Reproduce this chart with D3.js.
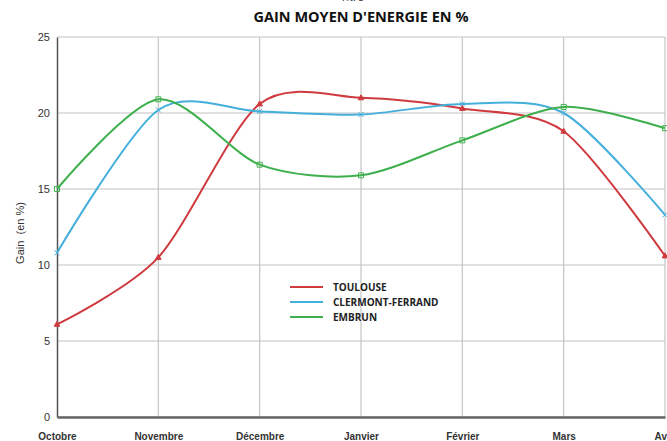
<!DOCTYPE html>
<html>
<head>
<meta charset="utf-8">
<script src="https://cdn.jsdelivr.net/npm/d3@7"></script>
<style>
  body { margin: 0; background: #fff; }
  svg { display: block; }
</style>
</head>
<body>
<div id="chart"></div>
<script>
// chart data
const months = ["Octobre", "Novembre", "Décembre", "Janvier", "Février", "Mars", "Avril"];
const toulouse = [6.1, 10.5, 20.6, 21.0, 20.3, 18.8, 10.6];
const clermont = [10.8, 20.2, 20.1, 19.9, 20.6, 20.0, 13.3];
const embrun = [15.0, 20.9, 16.6, 15.9, 18.2, 20.4, 19.0];
const yTicks = [0, 5, 10, 15, 20, 25];

const series = [
    { name: "TOULOUSE", values: toulouse, color: "#cf3a3f", marker: "triangle" },
    { name: "CLERMONT-FERRAND", values: clermont, color: "#45afdb", marker: "cross" },
    { name: "EMBRUN", values: embrun, color: "#3daf4c", marker: "square" }
];

const svgWidth = 667, svgHeight = 441;
const margin = { top: 37, right: 2, bottom: 24, left: 57 };
const width = svgWidth - margin.left - margin.right;
const height = svgHeight - margin.top - margin.bottom;

const svg = d3.select("#chart").append("svg")
    .attr("width", svgWidth)
    .attr("height", svgHeight)
    .style("font-family", "'Liberation Sans', Arial, sans-serif");

// titles (the top one is cut off in the original too)
svg.append("text")
    .attr("x", 352).attr("y", 1)
    .attr("text-anchor", "middle")
    .style("font-family", "'Open Sans', sans-serif")
    .style("font-size", "11px")
    .attr("fill", "#333")
    .text("Titre");

svg.append("text")
    .attr("x", 361).attr("y", 22)
    .attr("text-anchor", "middle")
    .style("font-family", "'Open Sans', sans-serif")
    .style("font-weight", "bold")
    .style("font-size", "14.5px")
    .attr("fill", "#111")
    .text("GAIN MOYEN D'ENERGIE EN %");

const g = svg.append("g")
    .attr("transform", `translate(${margin.left}, ${margin.top})`);

const x = d3.scalePoint().domain(months).range([0, 608]);
const y = d3.scaleLinear().domain([0, 25]).range([height, 0]);

// gridlines
g.append("g")
    .selectAll("line.h")
    .data(yTicks)
    .enter().append("line")
    .attr("x1", 0).attr("x2", width)
    .attr("y1", d => y(d)).attr("y2", d => y(d))
    .attr("stroke", "#c4c4c4").attr("stroke-width", 1.2);

g.append("g")
    .selectAll("line.v")
    .data(months.slice(1))
    .enter().append("line")
    .attr("x1", d => x(d)).attr("x2", d => x(d))
    .attr("y1", 0).attr("y2", height)
    .attr("stroke", "#c4c4c4").attr("stroke-width", 1.2);

// axes
const leftAxis = d3.axisLeft(y).tickValues(yTicks).tickSize(0).tickPadding(7);
const yAxisG = g.append("g").call(leftAxis);
yAxisG.select(".domain").attr("stroke", "#555").attr("stroke-width", 1.5);
yAxisG.selectAll("text")
    .style("font-size", "11px")
    .attr("fill", "#333");

const bottomAxis = d3.axisBottom(x).tickSize(0).tickPadding(16);
const xAxisG = g.append("g")
    .attr("transform", `translate(0, ${height})`)
    .call(bottomAxis);
xAxisG.select(".domain").attr("stroke", "#666").attr("stroke-width", 2.5);
xAxisG.selectAll("text")
    .style("font-size", "10px")
    .style("font-weight", "bold")
    .attr("fill", "#333");

// y axis label
svg.append("text")
    .attr("transform", `translate(24, 233) rotate(-90)`)
    .attr("text-anchor", "middle")
    .style("font-size", "11px")
    .attr("fill", "#333")
    .attr("xml:space", "preserve")
    .text("Gain  (en %)");

// lines
const line = d3.line()
    .x((d, i) => x(months[i]))
    .y(d => y(d))
    .curve(d3.curveCardinal.tension(0.15));

series.forEach(s => {
    g.append("path")
        .datum(s.values)
        .attr("fill", "none")
        .attr("stroke", s.color)
        .attr("stroke-width", 2)
        .attr("d", line);

    const pts = g.append("g").selectAll("path.m")
        .data(s.values)
        .enter().append("path")
        .attr("transform", (d, i) => `translate(${x(months[i])}, ${y(d)})`)
        .attr("fill", "none")
        .attr("stroke", s.color)
        .attr("stroke-width", 1);
    if (s.marker === "square") pts.attr("d", "M-2.5,-2.5h5v5h-5z");
    else if (s.marker === "cross") pts.attr("d", "M-2.5,-2.5L2.5,2.5M-2.5,2.5L2.5,-2.5");
    else pts.attr("d", "M0,-3L2.8,2L-2.8,2Z").attr("fill", s.color);
});

// legend
const legend = svg.append("g").attr("transform", "translate(290, 287)");
series.forEach((s, i) => {
    legend.append("line")
        .attr("x1", 0).attr("x2", 33)
        .attr("y1", i * 15).attr("y2", i * 15)
        .attr("stroke", s.color).attr("stroke-width", 2);
    legend.append("text")
        .attr("x", 43).attr("y", i * 15 + 3.5)
        .style("font-family", "'Open Sans', sans-serif")
        .style("font-weight", "bold")
        .style("font-size", "10px")
        .attr("fill", "#222")
        .text(s.name);
});
</script>
</body>
</html>
